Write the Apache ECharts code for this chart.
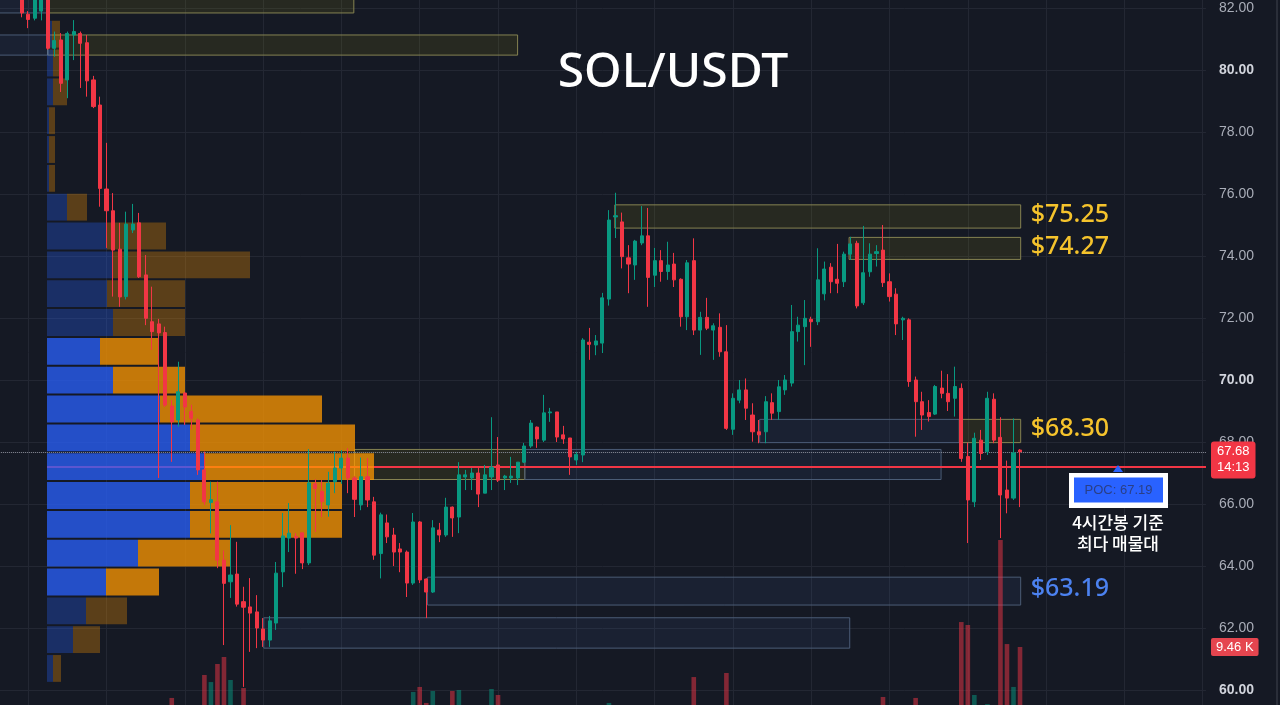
<!DOCTYPE html>
<html lang="ko">
<head>
<meta charset="UTF-8">
<title>SOL/USDT</title>
<script src="https://cdn.jsdelivr.net/npm/echarts@6/dist/echarts.min.js"></script>
<style>
  * { margin: 0; padding: 0; box-sizing: border-box; }
  html, body { width: 1280px; height: 705px; background: #151924; overflow: hidden; }
  #chart { width: 1280px; height: 705px; }
</style>
</head>
<body>
<div id="chart"></div>
<script>
// 4h candles, oldest first
const opens = [
  82.6, 81.8, 81.67, 81.9, 82.4, 80.7, 80.97, 79.68, 81.13, 81.18,
  80.88, 79.68, 78.87, 76.16, 75.46, 74.22, 72.69, 74.84, 75.07, 73.39,
  71.88, 71.81, 71.53, 69.16, 68.71, 69.58, 68.98, 68.71, 67.1, 66.05,
  66.07, 64.19, 63.49, 63.74, 62.85, 62.68, 62.52, 61.97, 61.61, 62.16,
  63.81, 64.9, 64.95, 65.07, 64.1, 66.65, 66.4, 65.97, 66.72, 67.16,
  67.48, 66.84, 65.97, 66.88, 66.07, 64.4, 65.39, 65.0, 64.55, 64.45,
  63.45, 65.42, 63.58, 63.16, 65.16, 65.0, 65.9, 65.58, 66.87, 66.84,
  67.0, 66.35, 66.87, 67.26, 66.84, 66.84, 66.84, 67.35, 67.87, 68.48,
  68.06, 68.94, 68.97, 68.23, 68.13, 67.42, 67.58, 71.22, 71.13, 71.19,
  72.61, 75.26, 75.1, 73.94, 73.71, 74.42, 74.65, 73.38, 73.85, 73.5,
  73.74, 73.25, 72.04, 73.85, 71.61, 72.02, 71.61, 71.7, 70.91, 68.41,
  69.35, 69.68, 68.87, 68.33, 68.33, 69.27, 68.98, 69.68, 69.9, 71.56,
  71.72, 71.96, 71.88, 72.78, 73.64, 73.25, 73.17, 74.06, 74.41, 72.49,
  73.49, 74.08, 74.19, 73.17, 72.77, 71.94, 71.94, 70.0, 69.3, 68.95,
  68.9, 69.74, 69.57, 69.41, 69.73, 67.53, 66.07, 68.06, 67.69, 69.38,
  68.15, 66.45, 66.19, 67.74
];
const closes = [
  81.84, 81.63, 82.4, 82.3, 80.7, 80.95, 79.57, 81.18, 81.24, 80.86,
  79.65, 78.82, 76.18, 75.46, 74.19, 72.68, 75.03, 75.03, 73.33, 71.99,
  71.56, 71.52, 69.19, 68.65, 69.62, 69.13, 68.77, 67.1, 66.07, 66.14,
  64.19, 63.44, 63.71, 62.77, 62.67, 62.48, 62.0, 61.61, 62.23, 63.77,
  64.97, 65.06, 64.9, 64.1, 66.68, 66.5, 66.08, 66.67, 67.16, 67.48,
  66.84, 66.15, 66.88, 66.13, 64.35, 65.65, 64.94, 64.45, 64.45, 63.45,
  65.42, 63.55, 63.16, 65.23, 65.0, 65.9, 65.55, 66.94, 66.94, 67.0,
  66.32, 66.94, 67.19, 66.77, 66.9, 66.9, 67.35, 67.87, 68.61, 68.1,
  68.94, 68.97, 68.16, 68.1, 67.52, 67.6, 71.29, 71.15, 71.26, 72.65,
  75.16, 75.3, 73.98, 73.74, 74.48, 74.65, 73.31, 73.85, 73.5, 73.71,
  73.23, 72.04, 73.78, 71.61, 72.02, 71.67, 71.75, 70.91, 68.44, 69.41,
  69.68, 69.09, 68.33, 68.23, 69.3, 68.93, 69.78, 70.0, 71.56, 71.77,
  71.99, 71.88, 73.23, 73.58, 73.17, 73.12, 74.06, 74.39, 72.39, 73.46,
  74.06, 74.14, 73.14, 72.69, 71.81, 71.99, 69.95, 69.3, 68.87, 68.82,
  69.79, 69.57, 69.3, 69.79, 67.47, 66.13, 68.12, 67.63, 69.41, 68.06,
  66.29, 66.19, 67.65, 67.68
];
const lows = [
  81.7, 81.35, 81.6, 81.6, 80.65, 80.43, 79.29, 79.09, 80.32, 79.42,
  79.14, 78.77, 75.59, 74.26, 72.69, 72.36, 72.6, 74.74, 73.29, 71.77,
  70.97, 66.84, 69.13, 67.36, 68.49, 68.55, 68.4, 66.94, 65.97, 65.05,
  63.93, 61.45, 62.97, 62.69, 60.1, 61.23, 61.35, 61.39, 61.39, 61.94,
  63.32, 64.45, 63.75, 63.9, 64.03, 65.1, 65.58, 65.59, 66.35, 66.65,
  66.35, 65.58, 65.8, 65.9, 64.2, 63.6, 64.74, 64.0, 63.8, 63.0,
  63.39, 63.45, 62.32, 63.13, 64.77, 64.94, 64.94, 65.06, 66.45, 66.45,
  65.9, 66.35, 66.45, 66.71, 66.45, 66.68, 66.61, 67.32, 67.81, 67.81,
  68.0, 68.65, 68.0, 67.94, 66.94, 67.26, 67.35, 70.65, 70.8, 70.87,
  72.4, 74.58, 73.6, 72.8, 73.23, 74.35, 72.36, 73.0, 73.17, 73.23,
  73.0, 71.72, 71.61, 71.45, 70.81, 71.61, 70.65, 70.75, 68.39, 68.23,
  69.25, 68.71, 68.01, 67.96, 67.96, 68.71, 68.71, 69.52, 69.79, 71.24,
  70.48, 71.07, 71.77, 72.57, 72.8, 72.8, 73.0, 73.87, 72.31, 72.42,
  73.33, 73.66, 73.0, 72.53, 71.45, 71.29, 69.78, 68.17, 68.39, 68.66,
  68.87, 69.41, 69.0, 68.82, 67.36, 64.74, 65.9, 67.42, 67.58, 67.96,
  64.9, 65.7, 66.13, 65.9
];
const highs = [
  82.9, 81.9, 82.6, 82.5, 82.6, 81.24, 81.19, 81.24, 81.61, 81.24,
  81.13, 79.81, 79.14, 77.65, 76.03, 75.07, 75.43, 75.68, 75.39, 74.03,
  73.01, 71.97, 71.72, 69.35, 70.59, 69.62, 69.2, 68.76, 67.69, 66.72,
  66.72, 64.5, 65.32, 64.78, 63.33, 63.61, 63.06, 62.32, 62.39, 64.13,
  65.71, 66.03, 65.06, 65.07, 67.77, 66.8, 66.77, 67.04, 67.69, 67.74,
  67.8, 66.9, 67.5, 67.48, 66.23, 65.72, 65.66, 65.23, 64.74, 64.5,
  65.71, 65.45, 63.6, 65.48, 65.39, 66.2, 65.92, 67.35, 67.1, 67.16,
  67.16, 67.26, 68.8, 68.16, 66.94, 67.52, 67.35, 67.97, 68.71, 68.5,
  69.52, 69.1, 68.97, 68.52, 68.13, 67.68, 71.35, 71.68, 71.45, 72.81,
  75.48, 76.04, 75.4, 74.35, 74.52, 75.61, 75.55, 74.26, 74.19, 74.46,
  74.1, 73.28, 73.87, 74.57, 72.2, 72.65, 71.83, 72.15, 71.77, 69.57,
  70.0, 70.05, 69.25, 68.71, 69.48, 69.57, 70.0, 70.16, 72.42, 72.04,
  72.58, 72.04, 74.25, 73.82, 73.77, 74.39, 74.14, 74.62, 74.49, 74.97,
  74.41, 74.35, 75.0, 73.44, 72.96, 72.04, 71.99, 70.11, 69.62, 69.35,
  69.84, 70.3, 70.19, 70.43, 69.89, 67.98, 68.3, 68.39, 69.62, 69.57,
  68.8, 67.4, 68.76, 67.77
];
// volume in K
const volumes = [
  3.1, 2.4, 2.9, 2.2, 3.6, 1.9, 3.3, 2.8, 1.7, 2.5,
  3.0, 2.6, 3.9, 3.4, 3.8, 3.2, 3.5, 2.1, 3.0, 3.7,
  3.1, 3.6, 3.8, 4.78, 3.2, 2.4, 2.0, 3.9, 6.89, 6.24,
  7.9, 8.54, 6.43, 3.9, 5.69, 3.4, 2.8, 2.3, 2.6, 3.3,
  3.0, 2.2, 2.5, 2.7, 3.8, 2.0, 1.9, 2.4, 2.6, 2.1,
  2.3, 2.0, 2.2, 1.8, 3.5, 2.9, 2.1, 2.4, 1.6, 3.1,
  5.33, 5.79, 4.32, 5.42, 2.0, 2.6, 5.42, 5.51, 1.9, 1.7,
  2.3, 2.0, 5.6, 5.05, 1.5, 1.6, 1.8, 2.1, 2.9, 1.7,
  2.8, 1.4, 2.2, 1.6, 2.5, 1.5, 3.9, 2.0, 1.6, 2.7,
  4.32, 2.4, 3.0, 2.2, 1.9, 2.1, 3.3, 1.8, 1.6, 1.7,
  1.9, 2.6, 2.8, 6.7, 2.0, 1.8, 1.7, 2.4, 7.07, 2.6,
  1.6, 2.0, 2.2, 1.5, 2.6, 1.7, 2.1, 1.4, 3.4, 1.8,
  2.2, 1.5, 3.0, 1.9, 1.8, 2.0, 2.3, 1.7, 3.7, 2.9,
  2.1, 1.6, 4.87, 2.4, 2.9, 1.8, 3.8, 4.78, 2.7, 1.9,
  2.3, 1.8, 2.0, 2.6, 11.75, 11.48, 5.05, 2.9, 4.22, 3.6,
  19.28, 9.73, 5.79, 9.46
];

// volume profile (4h) — bin lower price, buy / sell volume
const profileLow = [60.23, 61.16, 62.09, 63.02, 63.95, 64.88, 65.81, 66.74, 67.67, 68.60, 69.53, 70.46,
  71.39, 72.32, 73.25, 74.18, 75.11, 76.04, 76.97, 77.90, 78.83, 79.76, 80.69];
const profileBuy = [0.6, 2.6, 3.9, 5.9, 9.1, 14.3, 14.3, 15.7, 14.3, 11.3, 6.6, 5.3,
  6.6, 6.0, 6.6, 6.0, 2.0, 0.2, 0.2, 0.2, 0.6, 0.6, 0.5];
const profileSell = [0.8, 2.7, 4.1, 5.3, 9.2, 15.2, 15.2, 17.0, 16.5, 16.2, 7.2, 5.8,
  7.2, 7.8, 13.7, 5.9, 2.0, 0.6, 0.6, 0.6, 1.4, 0.9, 0.8];
const binSize = 0.93;
const valueAreaLow = 63.02;
const valueAreaHigh = 71.39;
const pocPrice = 67.19;
const lastPrice = 67.68;
const countdown = '14:13';

// zones (x in candle index, price top / bottom)
const zoneStart = [-3.5, 4.0, -3.5, 4.0, 90.9, 126.8, 113.1, 143.7, 51.0, 77.1, 62.2, 37.1];
const zoneEnd = [4.0, 50.9, 4.0, 76.0, 153.1, 153.1, 143.7, 153.1, 77.1, 140.9, 153.1, 126.9];
const zoneTop = [82.8, 82.8, 81.13, 81.13, 75.65, 74.6, 68.73, 68.73, 67.76, 67.76, 63.64, 62.33];
const zoneBottom = [81.84, 81.84, 80.48, 80.48, 74.9, 73.89, 67.98, 67.98, 66.79, 66.79, 62.74, 61.35];
const zoneKind = ['demand', 'supply', 'demand', 'supply', 'supply', 'supply', 'demand', 'supply', 'supply', 'demand', 'demand', 'demand'];
const zoneLabel = ['', '', '', '', '$75.25', '$74.27', '', '$68.30', '', '', '$63.19', ''];

const LEAD = 3, TRAIL = 28;
const STEP = 6.525;
const total = LEAD + opens.length + TRAIL;
const gridLeft = 21.7 - (LEAD + 0.5) * STEP;
const gridWidth = total * STEP;
// price scale: 31px per 1.00, 82.00 at y=8
const priceTop = 8 - 2 * 31;
const priceHeight = 26 * 31;
const profileMax = (gridLeft + gridWidth - 47) / 10;

const UP = '#089981', DOWN = '#f23645';

const categories = [];
for (let i = 0; i < total; i++) categories.push(String(i - LEAD));

const candleData = [], volumeData = [];
for (let i = 0; i < LEAD; i++) { candleData.push('-'); volumeData.push('-'); }
for (let k = 0; k < opens.length; k++) {
  candleData.push([opens[k], closes[k], lows[k], highs[k]]);
  const up = closes[k] >= opens[k];
  volumeData.push({ value: volumes[k], itemStyle: { color: up ? 'rgba(8,153,129,0.5)' : 'rgba(242,54,69,0.5)' } });
}
for (let i = 0; i < TRAIL; i++) { candleData.push('-'); volumeData.push('-'); }

const zoneData = zoneStart.map((s, i) => [s, zoneEnd[i], zoneTop[i], zoneBottom[i]]);
const profileData = profileLow.map((lo, j) => [lo, lo + binSize, profileBuy[j], profileSell[j]]);

const chart = echarts.init(document.getElementById('chart'), null, { renderer: 'canvas' });

const free = { outerBoundsMode: 'none', containLabel: false };
const lastVol = volumes[volumes.length - 1];

const option = {
  backgroundColor: '#151924',
  animation: false,
  grid: [
    Object.assign({ left: gridLeft, width: gridWidth, top: priceTop, height: priceHeight }, free),
    Object.assign({ left: gridLeft, width: gridWidth, top: 532.2, height: 217.8 }, free),
    Object.assign({ left: 47, width: gridLeft + gridWidth - 47, top: priceTop, height: priceHeight }, free),
    Object.assign({ left: 21.7 - 11 * STEP, width: 192 * STEP, top: priceTop, height: priceHeight }, free)
  ],
  xAxis: [
    { type: 'category', gridIndex: 0, data: categories, show: false },
    { type: 'value', gridIndex: 0, min: -LEAD - 0.5, max: total - LEAD - 0.5, show: false },
    { type: 'category', gridIndex: 1, data: categories, show: false },
    { type: 'value', gridIndex: 2, min: 0, max: profileMax, show: false },
    {
      type: 'value', gridIndex: 3, min: -12, max: 180, interval: 12,
      axisLine: { show: false }, axisTick: { show: false }, axisLabel: { show: false },
      splitLine: { show: true, lineStyle: { color: '#232733', width: 1 } }
    }
  ],
  yAxis: [
    {
      type: 'value', gridIndex: 0, position: 'right', min: 58, max: 84, interval: 2,
      axisLine: { show: false }, axisTick: { show: false },
      splitLine: { lineStyle: { color: '#232733', width: 1 } },
      axisLabel: {
        margin: 13,
        formatter: v => (v % 10 === 0 ? '{b|' : '{n|') + v.toFixed(2) + '}',
        rich: {
          n: { color: '#a9adb8', fontSize: 14, fontFamily: 'Liberation Sans' },
          b: { color: '#d1d4dc', fontSize: 14, fontWeight: 'bold', fontFamily: 'Liberation Sans' }
        }
      }
    },
    { type: 'value', gridIndex: 1, min: 0, max: 20, show: false },
    { type: 'value', gridIndex: 2, min: 58, max: 84, show: false },
    { type: 'value', gridIndex: 3, min: 0, max: 1, show: false }
  ],
  series: [
    {
      name: 'zones', type: 'custom', xAxisIndex: 1, yAxisIndex: 0, z: 1,
      data: zoneData,
      renderItem: (params, api) => {
        const a = api.coord([api.value(0), api.value(2)]);
        const b = api.coord([api.value(1), api.value(3)]);
        const supply = zoneKind[params.dataIndex] === 'supply';
        const children = [{
          type: 'rect',
          shape: { x: a[0], y: a[1], width: b[0] - a[0], height: b[1] - a[1] },
          style: {
            fill: supply ? 'rgba(170,165,20,0.12)' : 'rgba(80,120,200,0.09)',
            stroke: supply ? '#858251' : '#4b5c76', lineWidth: 1
          }
        }];
        const label = zoneLabel[params.dataIndex];
        if (label) {
          children.push({
            type: 'text',
            style: {
              x: b[0] + 10, y: (a[1] + b[1]) / 2 - 2, text: label,
              fill: supply ? '#f5c32c' : '#4c82f0',
              font: '500 25px "Noto Sans"', verticalAlign: 'middle', align: 'left'
            }
          });
        }
        return { type: 'group', children };
      }
    },
    {
      // POC line, drawn under the profile so it tints through it
      name: 'poc', type: 'custom', xAxisIndex: 3, yAxisIndex: 2, z: 2,
      data: [[pocPrice]],
      renderItem: (params, api) => {
        const p0 = api.coord([0, api.value(0)]);
        const p1 = api.coord([profileMax, api.value(0)]);
        return {
          type: 'line',
          shape: { x1: p0[0], y1: p0[1], x2: p1[0], y2: p1[1] },
          style: { stroke: '#f23645', lineWidth: 2 }
        };
      }
    },
    {
      name: 'profile', type: 'custom', xAxisIndex: 3, yAxisIndex: 2, z: 3,
      data: profileData,
      renderItem: (params, api) => {
        const lo = api.value(0), hi = api.value(1), buy = api.value(2), sell = api.value(3);
        const a = api.coord([0, hi]);
        const b = api.coord([buy, lo]);
        const c = api.coord([buy + sell, lo]);
        const inVA = lo >= valueAreaLow - 0.01 && hi <= valueAreaHigh + 0.01;
        const op = inVA ? 0.75 : 0.3;
        const y = a[1] + 1, h = b[1] - a[1] - 2;
        return {
          type: 'group', children: [
            { type: 'rect', shape: { x: a[0], y, width: b[0] - a[0], height: h }, style: { fill: '#2962ff', opacity: op } },
            { type: 'rect', shape: { x: b[0], y, width: c[0] - b[0], height: h }, style: { fill: '#ff9800', opacity: op } }
          ]
        };
      }
    },
    {
      name: 'volume', type: 'bar', xAxisIndex: 2, yAxisIndex: 1, z: 2,
      data: volumeData, barWidth: 4.6,
      markLine: {
        silent: true, symbol: 'none',
        lineStyle: { color: 'rgba(0,0,0,0)', width: 0 },
        label: {
          show: true, position: 'end', distance: 5,
          formatter: lastVol.toFixed(2) + ' K',
          backgroundColor: '#e5454f', color: '#fff', padding: [3, 5, 2, 5], borderRadius: 2,
          fontSize: 13, fontFamily: 'Liberation Sans'
        },
        data: [{ yAxis: lastVol }]
      }
    },
    {
      name: 'SOL/USDT', type: 'candlestick', xAxisIndex: 0, yAxisIndex: 0, z: 5,
      data: candleData, barWidth: 3.6,
      itemStyle: { color: UP, color0: DOWN, borderColor: UP, borderColor0: DOWN, borderWidth: 1 },
      markLine: {
        silent: true, symbol: 'none',
        lineStyle: { color: '#8b8f9a', width: 1, type: 'dotted' },
        label: {
          position: 'end', distance: 5, offset: [0, 8],
          formatter: lastPrice.toFixed(2) + '\n' + countdown,
          backgroundColor: '#f23645', color: '#fff', padding: [3, 6, 2, 6], borderRadius: 3,
          fontSize: 13, lineHeight: 16, fontFamily: 'Liberation Sans'
        },
        data: [{ yAxis: lastPrice }]
      }
    }
  ],
  graphic: [
    { type: 'rect', left: 1276, top: 0, shape: { width: 2, height: 705 }, style: { fill: '#2a2e39' } },
    {
      type: 'text', z: 10,
      style: { x: 673, y: 73, text: 'SOL/USDT', fill: '#ffffff', font: '500 48px "Noto Sans"', align: 'center', verticalAlign: 'middle' }
    },
    { type: 'polygon', z: 10, shape: { points: [[1113, 472], [1123, 472], [1118, 465]] }, style: { fill: '#2962ff' } },
    { type: 'rect', z: 10, shape: { x: 1069, y: 473, width: 99, height: 35 }, style: { fill: '#ffffff' } },
    { type: 'rect', z: 11, shape: { x: 1074, y: 477.5, width: 89, height: 25 }, style: { fill: '#2962ff' } },
    {
      type: 'text', z: 12,
      style: { x: 1118.5, y: 490, text: 'POC: 67.19', fill: '#2a3f86', font: '13px "Liberation Sans"', align: 'center', verticalAlign: 'middle' }
    },
    {
      type: 'text', z: 12,
      style: { x: 1118, y: 523, text: '4시간봉 기준', fill: '#ffffff', font: '500 17px "Noto Sans CJK KR"', align: 'center', verticalAlign: 'middle' }
    },
    {
      type: 'text', z: 12,
      style: { x: 1118, y: 544, text: '최다 매물대', fill: '#ffffff', font: '500 17px "Noto Sans CJK KR"', align: 'center', verticalAlign: 'middle' }
    }
  ]
};

chart.setOption(option);
</script>
</body>
</html>
